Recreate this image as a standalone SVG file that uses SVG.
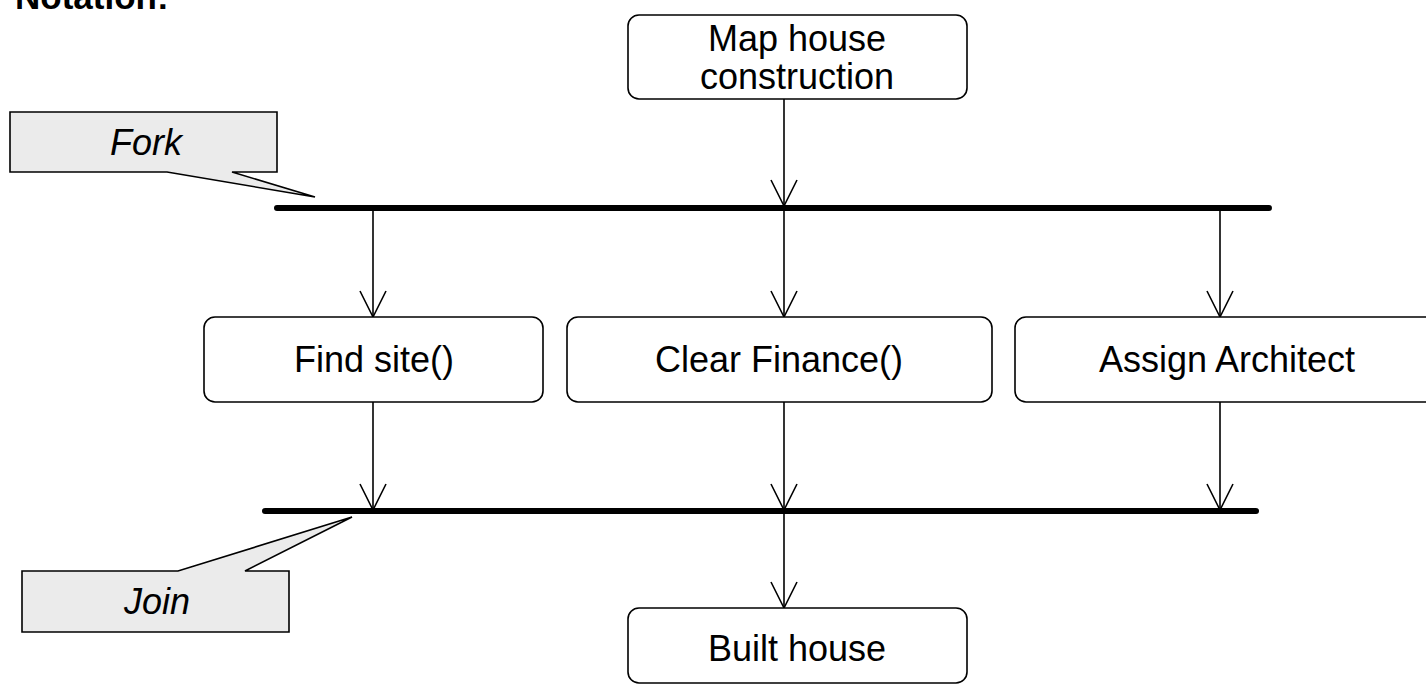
<svg xmlns="http://www.w3.org/2000/svg" width="1426" height="684" viewBox="0 0 1426 684">
  <defs>
    <style>
      .node { fill: #ffffff; stroke: #000000; stroke-width: 1.6; }
      .lbl { font-family: "Liberation Sans", Arial, sans-serif; font-size: 36px; fill: #000000; text-anchor: middle; }
      .note { fill: #ebebeb; stroke: #000000; stroke-width: 1.6; stroke-linejoin: miter; }
      .notetext { font-family: "Liberation Sans", Arial, sans-serif; font-size: 36px; font-style: italic; fill: #000000; text-anchor: middle; }
      .bar { stroke: #000000; stroke-width: 6; stroke-linecap: round; }
      .edge { stroke: #000000; stroke-width: 1.6; fill: none; marker-end: url(#vee); }
    </style>
    <marker id="vee" markerUnits="userSpaceOnUse" markerWidth="30" markerHeight="30" refX="26" refY="13" orient="auto" overflow="visible">
      <path d="M0,0 L26,13 L0,26" fill="none" stroke="#000000" stroke-width="1.6"/>
    </marker>
  </defs>
  <rect width="1426" height="684" fill="#ffffff"/>

  <text x="15" y="9" font-family="Liberation Sans, Arial, sans-serif" font-size="35" font-weight="bold" fill="#000000">Notation:</text>

  <g id="connectors">
    <line class="edge" x1="784" y1="99" x2="784" y2="206"/>
    <line class="edge" x1="373" y1="208" x2="373" y2="317"/>
    <line class="edge" x1="784" y1="208" x2="784" y2="317"/>
    <line class="edge" x1="1220" y1="208" x2="1220" y2="317"/>
    <line class="edge" x1="373" y1="402" x2="373" y2="510"/>
    <line class="edge" x1="784" y1="402" x2="784" y2="510"/>
    <line class="edge" x1="1220" y1="402" x2="1220" y2="510"/>
    <line class="edge" x1="784" y1="511" x2="784" y2="608"/>
  </g>

  <g id="fork">
    <line class="bar" x1="277" y1="208" x2="1269" y2="208"/>
  </g>
  <g id="join">
    <line class="bar" x1="265" y1="511" x2="1256" y2="511"/>
  </g>

  <g id="map-house">
    <rect class="node" x="628" y="15" width="339" height="84" rx="11"/>
    <text class="lbl" x="797" y="51">Map house</text>
    <text class="lbl" x="797" y="89">construction</text>
  </g>

  <g id="find-site">
    <rect class="node" x="204" y="317" width="339" height="85" rx="11"/>
    <text class="lbl" x="374" y="372">Find site()</text>
  </g>

  <g id="clear-finance">
    <rect class="node" x="567" y="317" width="425" height="85" rx="11"/>
    <text class="lbl" x="779" y="372">Clear Finance()</text>
  </g>

  <g id="assign-architect">
    <rect class="node" x="1015" y="317" width="424" height="85" rx="11"/>
    <text class="lbl" x="1227" y="372">Assign Architect</text>
  </g>

  <g id="built-house">
    <rect class="node" x="628" y="608" width="339" height="75" rx="11"/>
    <text class="lbl" x="797" y="661">Built house</text>
  </g>

  <g id="fork-note">
    <polygon class="note" points="10,112 277,112 277,172 232,172 315,197 167,172 10,172"/>
    <text class="notetext" x="146" y="155">Fork</text>
  </g>

  <g id="join-note">
    <polygon class="note" points="22,571 178,571 352,517 245,571 289,571 289,632 22,632"/>
    <text class="notetext" x="157" y="614">Join</text>
  </g>
</svg>
